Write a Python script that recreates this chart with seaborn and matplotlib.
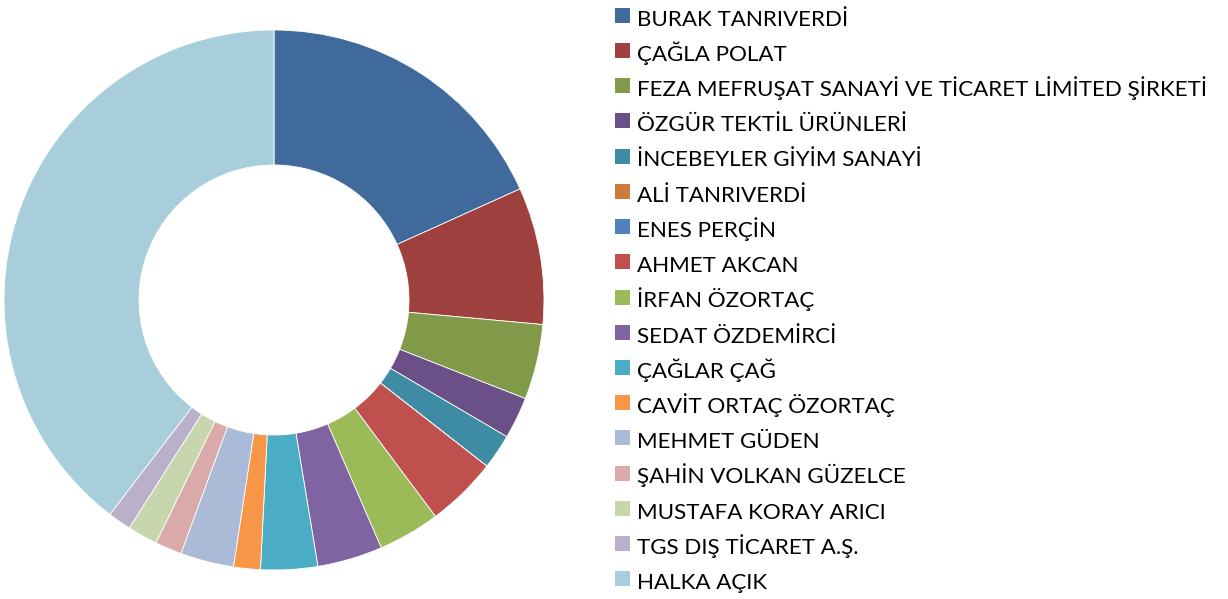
import matplotlib
matplotlib.use("Agg")
import matplotlib.pyplot as plt
from matplotlib.lines import Line2D
import seaborn as sns

# ortaklik yapisi - pay oranlari (%)
ortaklar = [
    "BURAK TANRIVERDİ",
    "ÇAĞLA POLAT",
    "FEZA MEFRUŞAT SANAYİ VE TİCARET LİMİTED ŞİRKETİ",
    "ÖZGÜR TEKTİL ÜRÜNLERİ",
    "İNCEBEYLER GİYİM SANAYİ",
    "ALİ TANRIVERDİ",
    "ENES PERÇİN",
    "AHMET AKCAN",
    "İRFAN ÖZORTAÇ",
    "SEDAT ÖZDEMİRCİ",
    "ÇAĞLAR ÇAĞ",
    "CAVİT ORTAÇ ÖZORTAÇ",
    "MEHMET GÜDEN",
    "ŞAHİN VOLKAN GÜZELCE",
    "MUSTAFA KORAY ARICI",
    "TGS DIŞ TİCARET A.Ş.",
    "HALKA AÇIK",
]
paylar = [18.25, 8.2, 4.5, 2.5, 2.1, 0.0, 0.0, 4.25, 3.7, 3.9,
          3.4, 1.6, 3.2, 1.6, 1.8, 1.4, 39.6]

renkler = ["#416A9C", "#9E413E", "#809A4A", "#6A5086", "#3D8CA3",
           "#CC7B38", "#4F81BD", "#C0504D", "#9BBB59", "#8064A2",
           "#4BACC6", "#F79646", "#AABAD7", "#D9AAA9", "#C7D6AD",
           "#BAB0C9", "#A9CEDB"]

sns.set_theme(style="white")
plt.rcParams["font.family"] = ["Lato", "DejaVu Sans"]
plt.rcParams["text.color"] = "black"
palet = sns.color_palette(renkler)

fig = plt.figure(figsize=(12.28, 5.99), dpi=100)
ax = fig.add_axes([4 / 1228, 29 / 599, 540 / 1228, 540 / 599])

wedges, _ = ax.pie(paylar, colors=palet, startangle=90, counterclock=False,
                   radius=1.0,
                   wedgeprops=dict(width=0.5, edgecolor="white", linewidth=0.6))
ax.set_xlim(-1, 1)
ax.set_ylim(-1, 1)

# kare lejant isaretleri (satir araligi sabit kalsin diye)
kareler = [Line2D([], [], marker="s", linestyle="none", markersize=10.8,
                  markerfacecolor=w.get_facecolor(), markeredgewidth=0)
           for w in wedges]

fs = 16.15
px = fs * 100 / 72
ax.legend(kareler, ortaklar, loc="upper left",
          bbox_to_anchor=(614.5 / 1228, 1 - 4 / 599),
          bbox_transform=fig.transFigure,
          frameon=False, fontsize=fs, labelcolor="black",
          handlelength=16 / px, handleheight=35.2 / px,
          handletextpad=6.5 / px, labelspacing=0.305,
          borderpad=0.0, borderaxespad=0.0)

fig.savefig("out.png", dpi=100)
